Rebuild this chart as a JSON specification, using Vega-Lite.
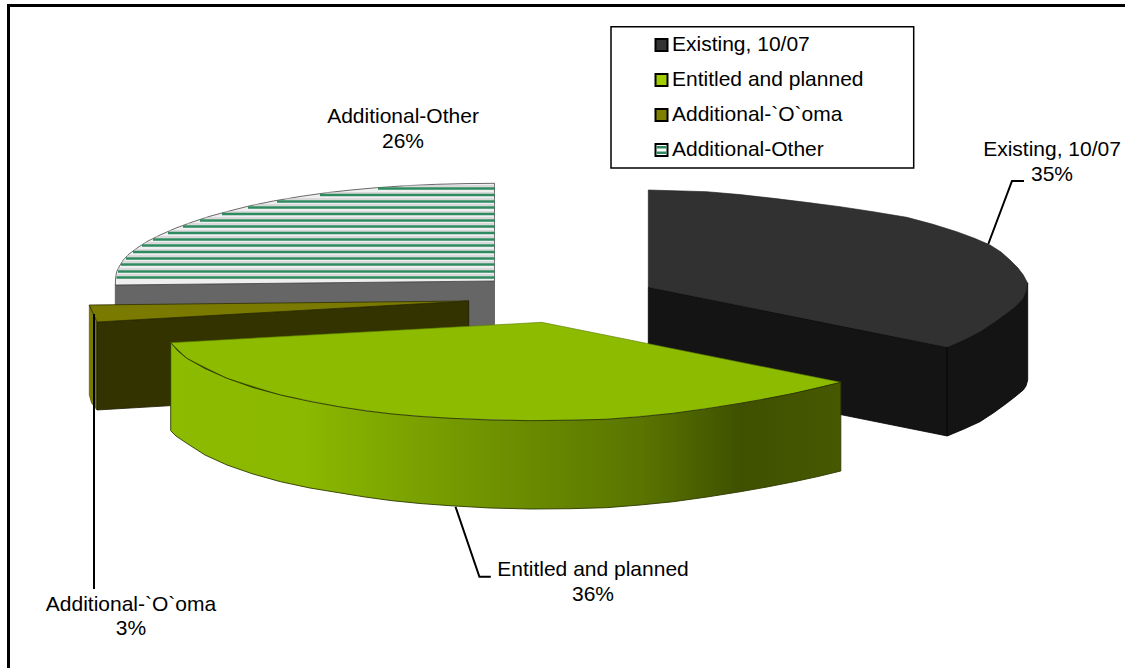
{
"$schema":"https://vega.github.io/schema/vega-lite/v6.json",
"width":1125,"height":668,"padding":0,"autosize":{"type":"none"},"background":"white",
"config":{"view":{"stroke":null},"axis":{"disable":true}},
"datasets":{
"faces":[
{"face":"otherWall","seq":1,"x":115.3,"y":285},{"face":"otherWall","seq":2,"x":494.5,"y":281},{"face":"otherWall","seq":3,"x":494.5,"y":330},{"face":"otherWall","seq":4,"x":115.3,"y":330},{"face":"otherWall","seq":5,"x":115.3,"y":285},

{"face":"otherTop","seq":1,"x":494.5,"y":183.3},{"face":"otherTop","seq":2,"x":465,"y":183.6},{"face":"otherTop","seq":3,"x":436.7,"y":184.3},{"face":"otherTop","seq":4,"x":406,"y":185.7},{"face":"otherTop","seq":5,"x":376.7,"y":187.7},{"face":"otherTop","seq":6,"x":351,"y":190},{"face":"otherTop","seq":7,"x":326.7,"y":192.7},{"face":"otherTop","seq":8,"x":300,"y":196.5},{"face":"otherTop","seq":9,"x":273.3,"y":201},{"face":"otherTop","seq":10,"x":249,"y":206},{"face":"otherTop","seq":11,"x":226.7,"y":211.7},{"face":"otherTop","seq":12,"x":209,"y":216.5},{"face":"otherTop","seq":13,"x":193.3,"y":221.7},{"face":"otherTop","seq":14,"x":176,"y":228},{"face":"otherTop","seq":15,"x":160,"y":235},{"face":"otherTop","seq":16,"x":147,"y":241.5},{"face":"otherTop","seq":17,"x":136.7,"y":248.3},{"face":"otherTop","seq":18,"x":129,"y":254},{"face":"otherTop","seq":19,"x":123.3,"y":260},{"face":"otherTop","seq":20,"x":119.5,"y":266},{"face":"otherTop","seq":21,"x":116.7,"y":271.7},{"face":"otherTop","seq":22,"x":115.6,"y":278},{"face":"otherTop","seq":23,"x":115.3,"y":285},{"face":"otherTop","seq":24,"x":494.5,"y":281},{"face":"otherTop","seq":25,"x":494.5,"y":183.3},

{"face":"oomaSide","seq":1,"x":89.3,"y":305},{"face":"oomaSide","seq":2,"x":97,"y":322},{"face":"oomaSide","seq":3,"x":97,"y":410},{"face":"oomaSide","seq":4,"x":91.5,"y":403},{"face":"oomaSide","seq":5,"x":89.3,"y":395},{"face":"oomaSide","seq":6,"x":89.3,"y":305},
{"face":"oomaWall","seq":1,"x":97,"y":322},{"face":"oomaWall","seq":2,"x":468.7,"y":301},{"face":"oomaWall","seq":3,"x":468.7,"y":388},{"face":"oomaWall","seq":4,"x":97,"y":410},{"face":"oomaWall","seq":5,"x":97,"y":322},
{"face":"oomaTop","seq":1,"x":89.3,"y":305},{"face":"oomaTop","seq":2,"x":468.7,"y":301},{"face":"oomaTop","seq":3,"x":97,"y":322},{"face":"oomaTop","seq":4,"x":89.3,"y":305},

{"face":"existingFront","seq":1,"x":648.3,"y":287.3},{"face":"existingFront","seq":2,"x":947.3,"y":347.3},{"face":"existingFront","seq":3,"x":947.3,"y":436},{"face":"existingFront","seq":4,"x":648.3,"y":376},{"face":"existingFront","seq":5,"x":648.3,"y":287.3},

{"face":"existingRim","seq":1,"x":947.3,"y":347.3},{"face":"existingRim","seq":2,"x":964,"y":340},{"face":"existingRim","seq":3,"x":980,"y":331.7},{"face":"existingRim","seq":4,"x":994,"y":322.5},{"face":"existingRim","seq":5,"x":1006.7,"y":313.3},{"face":"existingRim","seq":6,"x":1016,"y":306},{"face":"existingRim","seq":7,"x":1023.3,"y":298},{"face":"existingRim","seq":8,"x":1027.7,"y":283.3},{"face":"existingRim","seq":9,"x":1027.7,"y":380},{"face":"existingRim","seq":10,"x":1026,"y":386},{"face":"existingRim","seq":11,"x":1023.3,"y":390},{"face":"existingRim","seq":12,"x":1016,"y":396},{"face":"existingRim","seq":13,"x":1006.7,"y":403.3},{"face":"existingRim","seq":14,"x":994,"y":412.5},{"face":"existingRim","seq":15,"x":980,"y":421.7},{"face":"existingRim","seq":16,"x":964,"y":429},{"face":"existingRim","seq":17,"x":947.3,"y":436},{"face":"existingRim","seq":18,"x":947.3,"y":347.3},

{"face":"existingTop","seq":1,"x":648.3,"y":190},{"face":"existingTop","seq":2,"x":706.7,"y":191.7},{"face":"existingTop","seq":3,"x":740,"y":194.6},{"face":"existingTop","seq":4,"x":773.3,"y":198.3},{"face":"existingTop","seq":5,"x":806,"y":202.3},{"face":"existingTop","seq":6,"x":840,"y":206.7},{"face":"existingTop","seq":7,"x":873,"y":211.7},{"face":"existingTop","seq":8,"x":906.7,"y":217.3},{"face":"existingTop","seq":9,"x":932,"y":224},{"face":"existingTop","seq":10,"x":956.7,"y":231.7},{"face":"existingTop","seq":11,"x":975,"y":238.5},{"face":"existingTop","seq":12,"x":990,"y":245},{"face":"existingTop","seq":13,"x":1001,"y":252},{"face":"existingTop","seq":14,"x":1010,"y":260},{"face":"existingTop","seq":15,"x":1018,"y":268},{"face":"existingTop","seq":16,"x":1023.3,"y":275},{"face":"existingTop","seq":17,"x":1027.7,"y":283.3},{"face":"existingTop","seq":18,"x":1026.5,"y":291},{"face":"existingTop","seq":19,"x":1023.3,"y":298},{"face":"existingTop","seq":20,"x":1016,"y":306},{"face":"existingTop","seq":21,"x":1006.7,"y":313.3},{"face":"existingTop","seq":22,"x":994,"y":322.5},{"face":"existingTop","seq":23,"x":980,"y":331.7},{"face":"existingTop","seq":24,"x":964,"y":340},{"face":"existingTop","seq":25,"x":947.3,"y":347.3},{"face":"existingTop","seq":26,"x":648.3,"y":287.3},{"face":"existingTop","seq":27,"x":648.3,"y":190},

{"face":"entitledTop","seq":1,"x":170.7,"y":342.7},{"face":"entitledTop","seq":2,"x":541.7,"y":322.3},{"face":"entitledTop","seq":3,"x":840.8,"y":382.3},{"face":"entitledTop","seq":4,"x":794,"y":393.3},{"face":"entitledTop","seq":5,"x":740.4,"y":403.3},{"face":"entitledTop","seq":6,"x":673.4,"y":413.3},{"face":"entitledTop","seq":7,"x":606.4,"y":419.3},{"face":"entitledTop","seq":8,"x":530.5,"y":420.7},{"face":"entitledTop","seq":9,"x":450,"y":418.3},{"face":"entitledTop","seq":10,"x":392,"y":414},{"face":"entitledTop","seq":11,"x":338.6,"y":406.7},{"face":"entitledTop","seq":12,"x":280.5,"y":395},{"face":"entitledTop","seq":13,"x":227,"y":378.3},{"face":"entitledTop","seq":14,"x":186.8,"y":358.3},{"face":"entitledTop","seq":15,"x":170.7,"y":342.7},

{"face":"entitledRim","seq":1,"x":170.7,"y":342.7},{"face":"entitledRim","seq":2,"x":178,"y":351},{"face":"entitledRim","seq":3,"x":186.8,"y":358.3},{"face":"entitledRim","seq":4,"x":205,"y":368.5},{"face":"entitledRim","seq":5,"x":227,"y":378.3},{"face":"entitledRim","seq":6,"x":253,"y":387.5},{"face":"entitledRim","seq":7,"x":280.5,"y":395},{"face":"entitledRim","seq":8,"x":310,"y":401.5},{"face":"entitledRim","seq":9,"x":338.6,"y":406.7},{"face":"entitledRim","seq":10,"x":365,"y":410.8},{"face":"entitledRim","seq":11,"x":392,"y":414},{"face":"entitledRim","seq":12,"x":420,"y":416.5},{"face":"entitledRim","seq":13,"x":450,"y":418.3},{"face":"entitledRim","seq":14,"x":490,"y":420},{"face":"entitledRim","seq":15,"x":530.5,"y":420.7},{"face":"entitledRim","seq":16,"x":570,"y":420.3},{"face":"entitledRim","seq":17,"x":606.4,"y":419.3},{"face":"entitledRim","seq":18,"x":640,"y":416.8},{"face":"entitledRim","seq":19,"x":673.4,"y":413.3},{"face":"entitledRim","seq":20,"x":707,"y":408.7},{"face":"entitledRim","seq":21,"x":740.4,"y":403.3},{"face":"entitledRim","seq":22,"x":767,"y":398.7},{"face":"entitledRim","seq":23,"x":794,"y":393.3},{"face":"entitledRim","seq":24,"x":818,"y":387.8},{"face":"entitledRim","seq":25,"x":840.8,"y":382.3},{"face":"entitledRim","seq":26,"x":840.8,"y":471},{"face":"entitledRim","seq":27,"x":818,"y":476.5},{"face":"entitledRim","seq":28,"x":794,"y":481.7},{"face":"entitledRim","seq":29,"x":767,"y":487},{"face":"entitledRim","seq":30,"x":740.4,"y":491.7},{"face":"entitledRim","seq":31,"x":707,"y":497},{"face":"entitledRim","seq":32,"x":673.4,"y":501.7},{"face":"entitledRim","seq":33,"x":640,"y":505},{"face":"entitledRim","seq":34,"x":606.4,"y":507.7},{"face":"entitledRim","seq":35,"x":570,"y":508.7},{"face":"entitledRim","seq":36,"x":530.5,"y":509},{"face":"entitledRim","seq":37,"x":490,"y":508},{"face":"entitledRim","seq":38,"x":450,"y":505.7},{"face":"entitledRim","seq":39,"x":420,"y":503.5},{"face":"entitledRim","seq":40,"x":392,"y":500.7},{"face":"entitledRim","seq":41,"x":365,"y":497},{"face":"entitledRim","seq":42,"x":338.6,"y":492.7},{"face":"entitledRim","seq":43,"x":310,"y":488},{"face":"entitledRim","seq":44,"x":280.5,"y":481.7},{"face":"entitledRim","seq":45,"x":253,"y":474},{"face":"entitledRim","seq":46,"x":227,"y":465},{"face":"entitledRim","seq":47,"x":205,"y":455},{"face":"entitledRim","seq":48,"x":186.8,"y":443.3},{"face":"entitledRim","seq":49,"x":176,"y":436},{"face":"entitledRim","seq":50,"x":170.7,"y":430.7},{"face":"entitledRim","seq":51,"x":170.7,"y":342.7}
],
"stripes":[
{"kind":"green","x":116.5,"x2":494.5,"y":277.5},{"kind":"green","x":118,"x2":494.5,"y":271.5},{"kind":"green","x":121,"x2":494.5,"y":264.5},{"kind":"green","x":126,"x2":494.5,"y":258.5},{"kind":"green","x":133,"x2":494.5,"y":252},{"kind":"green","x":142,"x2":494.5,"y":245.5},{"kind":"green","x":153,"x2":494.5,"y":239.5},{"kind":"green","x":168,"x2":494.5,"y":233},{"kind":"green","x":183,"x2":494.5,"y":226.5},{"kind":"green","x":200,"x2":494.5,"y":220.5},{"kind":"green","x":222,"x2":494.5,"y":214},{"kind":"green","x":248,"x2":494.5,"y":207.5},{"kind":"green","x":277,"x2":494.5,"y":201.5},{"kind":"green","x":320,"x2":494.5,"y":195},{"kind":"green","x":378,"x2":494.5,"y":188.5},
{"kind":"grey","x":116,"x2":494.5,"y":275},{"kind":"grey","x":118,"x2":494.5,"y":269},{"kind":"grey","x":122,"x2":494.5,"y":262},{"kind":"grey","x":127,"x2":494.5,"y":256},{"kind":"grey","x":134,"x2":494.5,"y":250},{"kind":"grey","x":144,"x2":494.5,"y":243},{"kind":"grey","x":156,"x2":494.5,"y":237},{"kind":"grey","x":169,"x2":494.5,"y":231},{"kind":"grey","x":187,"x2":494.5,"y":224},{"kind":"grey","x":205,"x2":494.5,"y":218},{"kind":"grey","x":225,"x2":494.5,"y":212},{"kind":"grey","x":254,"x2":494.5,"y":205},{"kind":"grey","x":285,"x2":494.5,"y":199},{"kind":"grey","x":325,"x2":494.5,"y":193},{"kind":"grey","x":403,"x2":494.5,"y":186}
],
"leaders":[
{"id":"frame","seq":1,"x":8.5,"y":668},{"id":"frame","seq":2,"x":8.5,"y":5.5},{"id":"frame","seq":3,"x":1125,"y":5.5},
{"id":"existing","seq":1,"x":988.3,"y":244},{"id":"existing","seq":2,"x":1012,"y":181},{"id":"existing","seq":3,"x":1024,"y":181},
{"id":"entitled","seq":1,"x":455.5,"y":506.7},{"id":"entitled","seq":2,"x":479.4,"y":576.7},{"id":"entitled","seq":3,"x":490.8,"y":576.7},
{"id":"ooma","seq":1,"x":94,"y":314},{"id":"ooma","seq":2,"x":94,"y":589}
],
"labels":[
{"text":"Additional-Other","x":403,"y":117},{"text":"26%","x":403,"y":142},
{"text":"Existing, 10/07","x":1052,"y":150},{"text":"35%","x":1052,"y":175},
{"text":"Entitled and planned","x":593,"y":570},{"text":"36%","x":593,"y":595},
{"text":"Additional-`O`oma","x":131,"y":605},{"text":"3%","x":131,"y":629}
],
"legendBox":[{"x":611,"x2":913.7,"y":26.8,"y2":168}],
"legendEntries":[
{"series":"Existing, 10/07","sx":655.5,"sx2":667.5,"sy":39,"sy2":51,"x":672,"y":45},
{"series":"Entitled and planned","sx":655.5,"sx2":667.5,"sy":74,"sy2":86,"x":672,"y":80},
{"series":"Additional-`O`oma","sx":655.5,"sx2":667.5,"sy":109,"sy2":121,"x":672,"y":115},
{"series":"Additional-Other","sx":655.5,"sx2":667.5,"sy":144,"sy2":156,"x":672,"y":150}
],
"legendBands":[
{"x":656.5,"x2":666.5,"y":146,"y2":148.5},{"x":656.5,"x2":666.5,"y":151.5,"y2":154}
]
},
"encoding":{
"x":{"field":"x","type":"quantitative","scale":{"domain":[0,1125],"nice":false,"zero":false},"axis":null},
"y":{"field":"y","type":"quantitative","scale":{"domain":[668,0],"nice":false,"zero":false},"axis":null}
},
"layer":[
{"data":{"name":"faces"},"transform":[{"filter":"datum.face==='otherWall'"}],"mark":{"type":"line","fill":"#666666","stroke":"#555555","strokeWidth":0.8},"encoding":{"order":{"field":"seq","type":"quantitative"}}},
{"data":{"name":"faces"},"transform":[{"filter":"datum.face==='otherTop'"}],"mark":{"type":"line","fill":"#efefef","stroke":"#444444","strokeWidth":0.8},"encoding":{"order":{"field":"seq","type":"quantitative"}}},
{"data":{"name":"stripes"},"transform":[{"filter":"datum.kind==='grey'"}],"mark":{"type":"rule","stroke":"#c4c4c4","strokeWidth":1},"encoding":{"x2":{"field":"x2"}}},
{"data":{"name":"stripes"},"transform":[{"filter":"datum.kind==='green'"}],"mark":{"type":"rule","stroke":"#2e8b60","strokeWidth":2.5},"encoding":{"x2":{"field":"x2"}}},
{"data":{"name":"faces"},"transform":[{"filter":"datum.face==='oomaSide'"}],"mark":{"type":"line","fill":"#7a7a00","stroke":"#4a4a00","strokeWidth":0.6},"encoding":{"order":{"field":"seq","type":"quantitative"}}},
{"data":{"name":"faces"},"transform":[{"filter":"datum.face==='oomaWall'"}],"mark":{"type":"line","fill":"#333300","stroke":"#1c1c00","strokeWidth":0.8},"encoding":{"order":{"field":"seq","type":"quantitative"}}},
{"data":{"name":"faces"},"transform":[{"filter":"datum.face==='oomaTop'"}],"mark":{"type":"line","fill":"#7a7a00","stroke":"#2e2e00","strokeWidth":0.8},"encoding":{"order":{"field":"seq","type":"quantitative"}}},
{"data":{"name":"faces"},"transform":[{"filter":"datum.face==='existingFront'"}],"mark":{"type":"line","fill":"#141414","stroke":"#000000","strokeWidth":0.8},"encoding":{"order":{"field":"seq","type":"quantitative"}}},
{"data":{"name":"faces"},"transform":[{"filter":"datum.face==='existingRim'"}],"mark":{"type":"line","fill":"#141414","stroke":"#000000","strokeWidth":0.8},"encoding":{"order":{"field":"seq","type":"quantitative"}}},
{"data":{"name":"faces"},"transform":[{"filter":"datum.face==='existingTop'"}],"mark":{"type":"line","fill":"#313131","stroke":"#1a1a1a","strokeWidth":0.6},"encoding":{"order":{"field":"seq","type":"quantitative"}}},
{"data":{"name":"faces"},"transform":[{"filter":"datum.face==='entitledTop'"}],"mark":{"type":"line","fill":"#8cbb00","stroke":"#5d7a00","strokeWidth":0.6},"encoding":{"order":{"field":"seq","type":"quantitative"}}},
{"data":{"name":"faces"},"transform":[{"filter":"datum.face==='entitledRim'"}],"mark":{"type":"line","stroke":"#2c3a00","strokeWidth":0.9,"fill":{"gradient":"linear","x1":0,"y1":0,"x2":1,"y2":0,"stops":[{"offset":0,"color":"#8dbb00"},{"offset":0.2,"color":"#8bb800"},{"offset":0.5,"color":"#6d8f00"},{"offset":0.7,"color":"#5a7500"},{"offset":0.85,"color":"#3f5100"},{"offset":1,"color":"#465800"}]}},"encoding":{"order":{"field":"seq","type":"quantitative"}}},
{"data":{"name":"leaders"},"transform":[{"filter":"datum.id==='frame'"}],"mark":{"type":"line","stroke":"#000000","strokeWidth":3,"strokeCap":"butt","strokeJoin":"miter"},"encoding":{"order":{"field":"seq","type":"quantitative"}}},
{"data":{"name":"leaders"},"transform":[{"filter":"datum.id!=='frame'"}],"mark":{"type":"line","stroke":"#000000","strokeWidth":2,"strokeCap":"butt"},"encoding":{"detail":{"field":"id"},"order":{"field":"seq","type":"quantitative"}}},
{"data":{"name":"legendBox"},"mark":{"type":"rect","fill":"white","stroke":"#000000","strokeWidth":1.5},"encoding":{"x2":{"field":"x2"},"y2":{"field":"y2"}}},
{"data":{"name":"legendEntries"},"mark":{"type":"rect","stroke":"#000000","strokeWidth":2},"encoding":{"x":{"field":"sx","type":"quantitative"},"x2":{"field":"sx2"},"y":{"field":"sy","type":"quantitative"},"y2":{"field":"sy2"},"fill":{"field":"series","type":"nominal","legend":null,"scale":{"domain":["Existing, 10/07","Entitled and planned","Additional-`O`oma","Additional-Other"],"range":["#333333","#a0cc00","#808000","#ffffff"]}}}},
{"data":{"name":"legendBands"},"mark":{"type":"rect","fill":"#2e8b60"},"encoding":{"x2":{"field":"x2"},"y2":{"field":"y2"}}},
{"data":{"name":"legendEntries"},"mark":{"type":"text","align":"left","baseline":"middle","font":"Liberation Sans","fontSize":21,"fill":"#000000"},"encoding":{"text":{"field":"series"}}},
{"data":{"name":"labels"},"mark":{"type":"text","align":"center","baseline":"middle","font":"Liberation Sans","fontSize":21,"fill":"#000000"},"encoding":{"text":{"field":"text"}}}
]
}
